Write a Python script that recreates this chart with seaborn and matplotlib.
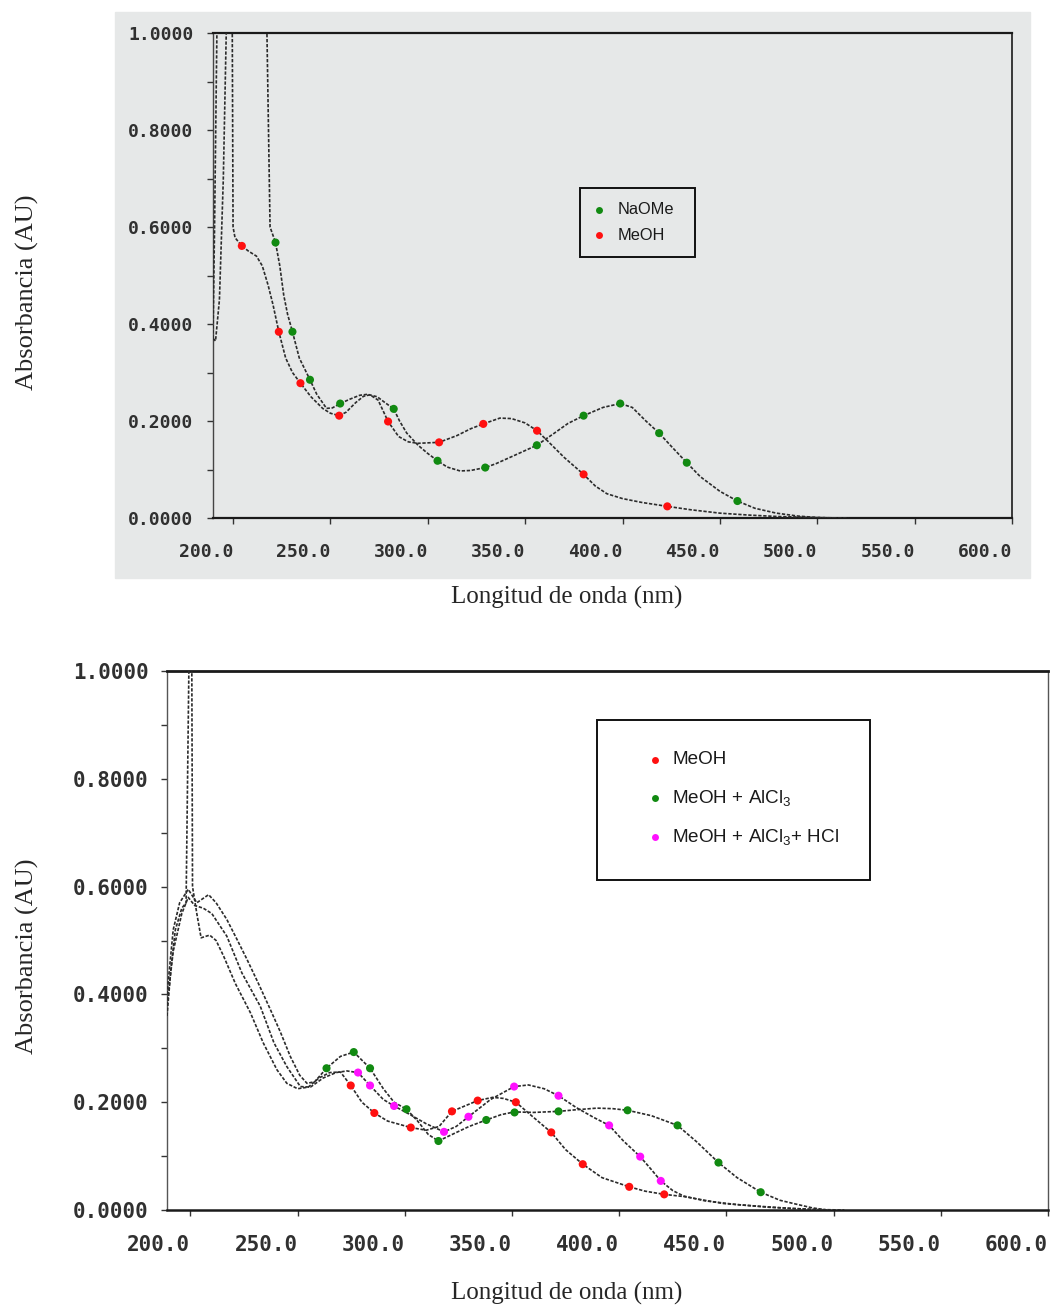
import matplotlib
matplotlib.use("Agg")
import matplotlib.pyplot as plt
import seaborn as sns
from matplotlib.patches import Rectangle
from matplotlib.lines import Line2D

sns.set_theme(style="white")
plt.rcParams['font.family'] = ['Liberation Sans', 'DejaVu Sans']
plt.rcParams['mathtext.default'] = 'regular'

W, H = 1055, 1309

# ---- top spectrum (NaOMe shift) : wavelength nm / absorbance
top_meoh_nm = [189.7, 191, 193, 195, 197, 199.5, 200, 201, 204.5, 208, 212, 215, 218, 220.5,
               223.5, 227, 230.5, 234.6, 240, 246, 250, 254.5, 258, 263, 267, 270.3, 274.5,
               279.6, 285, 290, 295, 305.8, 315, 322, 328.5, 337, 343, 350, 356.1, 362, 370,
               380, 386, 392, 400, 410, 423, 435, 450, 465, 480, 495, 505, 516]
top_meoh_abs = [0.37, 0.365, 0.45, 0.7, 1.1, 1.1, 0.6, 0.578, 0.561, 0.55, 0.54, 0.52, 0.48, 0.44,
                0.384, 0.33, 0.3, 0.278, 0.25, 0.226, 0.216, 0.211, 0.218, 0.238, 0.251, 0.254, 0.243,
                0.199, 0.168, 0.157, 0.154, 0.156, 0.17, 0.184, 0.194, 0.206, 0.205, 0.196, 0.18, 0.157, 0.125,
                0.09, 0.066, 0.05, 0.04, 0.032, 0.024, 0.017, 0.01, 0.006, 0.003, 0.0015, 0.0005, 0.0]
top_naome_nm = [189.7, 190.5, 192, 217, 219, 221.8, 224, 226, 228, 230.5, 234, 239.5, 243, 248,
                251, 255, 260, 265, 269, 274, 278, 282.5, 285.5, 289.2, 295, 300, 305, 310, 316.6,
                322, 329.5, 335, 345, 356, 365, 372, 380, 390, 398.8, 405, 412, 418.8, 425, 433,
                440, 450, 459, 468, 479, 490, 500, 510]
top_naome_abs = [0.37, 0.6, 1.1, 1.1, 0.6, 0.568, 0.52, 0.46, 0.42, 0.384, 0.33, 0.285, 0.255, 0.226,
                 0.227, 0.236, 0.245, 0.253, 0.255, 0.25, 0.238, 0.225, 0.2, 0.175, 0.15, 0.133, 0.118, 0.105, 0.097,
                 0.098, 0.104, 0.112, 0.13, 0.15, 0.175, 0.195, 0.211, 0.228, 0.236, 0.228, 0.2, 0.175, 0.148, 0.114,
                 0.085, 0.055, 0.035, 0.02, 0.01, 0.004, 0.001, 0.0]

top_meoh_pts_nm = [204.5, 223.5, 234.6, 254.5, 279.6, 305.8, 328.5, 356.1, 380, 423]
top_meoh_pts_abs = [0.561, 0.384, 0.278, 0.211, 0.199, 0.156, 0.194, 0.18, 0.09, 0.024]
top_naome_pts_nm = [221.8, 230.5, 239.5, 255, 282.5, 305, 329.5, 356, 380, 398.8, 418.8, 433, 459]
top_naome_pts_abs = [0.568, 0.384, 0.285, 0.236, 0.225, 0.118, 0.104, 0.15, 0.211, 0.236, 0.175, 0.114, 0.035]

# ---- bottom spectrum (AlCl3 / HCl shift)
bot_meoh_nm = [189.1, 191, 193, 196, 198, 199.6, 200.6, 201, 203, 205, 209, 212, 215.5, 221, 228,
               234, 240.4, 245, 250, 255, 260, 265, 270, 274.8, 280, 285.8, 292, 302.8, 310, 316,
               322, 334, 341, 346, 351.8, 360, 368.3, 375, 383, 392, 404.7, 412, 421, 430, 448.6,
               465, 480, 497]
bot_meoh_abs = [0.36, 0.45, 0.52, 0.56, 0.57, 1.1, 1.1, 0.6, 0.55, 0.505, 0.51, 0.5, 0.471, 0.42, 0.366,
                0.31, 0.26, 0.235, 0.225, 0.228, 0.245, 0.255, 0.256, 0.231, 0.2, 0.18, 0.165, 0.153, 0.148, 0.155,
                0.183, 0.203, 0.209, 0.207, 0.2, 0.172, 0.144, 0.112, 0.085, 0.06, 0.043, 0.035, 0.029, 0.025, 0.012,
                0.007, 0.003, 0.0]
bot_alcl3_nm = [189.1, 192, 195, 199, 203, 208.5, 212, 217, 222, 226.4, 232, 237.3, 242, 246.6, 251,
                254.4, 258, 263.5, 270, 276.2, 283.8, 290, 295, 300.8, 306, 311, 315.7, 322, 330, 338,
                345, 351.2, 360, 371.7, 380, 389.6, 397, 403.9, 415, 427.2, 436, 446.3, 455, 466, 475,
                481.3, 490, 497]
bot_alcl3_abs = [0.40, 0.52, 0.57, 0.595, 0.57, 0.585, 0.57, 0.539, 0.5, 0.465, 0.418, 0.372, 0.33, 0.285, 0.25,
                 0.235, 0.238, 0.263, 0.285, 0.293, 0.263, 0.225, 0.2, 0.187, 0.165, 0.14, 0.128, 0.14, 0.155, 0.167,
                 0.177, 0.182, 0.181, 0.183, 0.186, 0.189, 0.188, 0.185, 0.175, 0.157, 0.127, 0.088, 0.06, 0.033, 0.018,
                 0.012, 0.004, 0.0]
bot_hcl_nm = [189.1, 192, 196, 199, 202, 206, 210, 217, 224, 232.6, 239, 245, 251.3, 256, 262, 268,
              273, 278.2, 283.8, 290, 295, 302, 310, 318.3, 324, 329.7, 340, 351, 357.7, 365, 371.7,
              380, 388, 395.3, 402, 409.8, 415, 419.4, 425, 430, 440, 455, 470, 490, 505]
bot_hcl_abs = [0.38, 0.48, 0.55, 0.58, 0.565, 0.56, 0.55, 0.508, 0.44, 0.378, 0.31, 0.266, 0.229, 0.228, 0.245, 0.255,
               0.258, 0.255, 0.231, 0.205, 0.193, 0.178, 0.16, 0.145, 0.155, 0.173, 0.205, 0.229, 0.232, 0.225, 0.212,
               0.19, 0.172, 0.157, 0.128, 0.099, 0.075, 0.054, 0.036, 0.026, 0.017, 0.01, 0.005, 0.001, 0.0]

bot_meoh_pts_nm = [274.8, 285.8, 302.8, 322, 334, 351.8, 368.3, 383, 404.7, 421]
bot_meoh_pts_abs = [0.231, 0.18, 0.153, 0.183, 0.203, 0.2, 0.144, 0.085, 0.043, 0.029]
bot_alcl3_pts_nm = [263.5, 276.2, 283.8, 300.8, 315.7, 338, 351.2, 371.7, 403.9, 427.2, 446.3, 466]
bot_alcl3_pts_abs = [0.263, 0.293, 0.263, 0.187, 0.128, 0.167, 0.181, 0.183, 0.185, 0.157, 0.088, 0.033]
bot_hcl_pts_nm = [278.2, 283.8, 295, 318.3, 329.7, 351, 371.7, 395.3, 409.8, 419.4]
bot_hcl_pts_abs = [0.255, 0.231, 0.193, 0.145, 0.173, 0.229, 0.212, 0.157, 0.099, 0.054]

x_ticks = [200, 250, 300, 350, 400, 450, 500, 550, 600]
y_ticks = [0.0, 0.2, 0.4, 0.6, 0.8, 1.0]

RED, GREEN, MAGENTA = '#ff1010', '#118a11', '#ff10ff'
LINE = '#2b2b2b'
SCAN_GRAY = '#e6e8e8'


def fx(x):
    return x / W


def fy(y):
    return 1 - y / H


def px_axes(l, t, r, b):
    return [l / W, 1 - b / H, (r - l) / W, (b - t) / H]


def style_axes(ax, xlim, fs, ypad, xpad):
    ax.set_xlim(*xlim)
    ax.set_ylim(0, 1.0)
    ax.set_xticks(x_ticks)
    ax.set_xticklabels([f"{v:.1f}" for v in x_ticks], ha='right')
    ax.set_yticks(y_ticks)
    ax.set_yticklabels([f"{v:.4f}" for v in y_ticks])
    ax.set_yticks([0.1, 0.3, 0.5, 0.7, 0.9], minor=True)
    ax.tick_params(axis='both', which='both', direction='out', length=4, width=1,
                   color='#333333', labelcolor='#303030', left=True, bottom=True)
    ax.tick_params(axis='y', pad=ypad)
    ax.tick_params(axis='x', pad=xpad)
    for lab in ax.get_xticklabels() + ax.get_yticklabels():
        lab.set_fontfamily('DejaVu Sans Mono')
        lab.set_fontweight('bold')
        lab.set_fontsize(fs)
    ax.set_xlabel('')
    ax.set_ylabel('')
    ax.grid(False)


def draw_series(ax, nm, ab, pts_nm, pts_ab, color):
    sns.lineplot(x=nm, y=ab, ax=ax, color=LINE, lw=1.2, linestyle=(0, (2, 1)),
                 sort=False, estimator=None, zorder=3)
    sns.scatterplot(x=pts_nm, y=pts_ab, ax=ax, color=color, s=34, edgecolor='none',
                    zorder=5, clip_on=False)


def draw_key(fig, box, rows, mx, tx, fs):
    l, t, r, b = box
    fig.add_artist(Rectangle((fx(l), fy(b)), fx(r - l), (b - t) / H, transform=fig.transFigure,
                             fill=False, edgecolor='#111111', lw=1.4, zorder=10))
    for y, color, label in rows:
        fig.add_artist(Line2D([fx(mx)], [fy(y)], marker='o', markersize=5, color=color,
                              markeredgecolor='none', transform=fig.transFigure, zorder=11))
        fig.text(fx(tx), fy(y), label, fontsize=fs, va='center', ha='left', color='#1a1a1a',
                 family=['Liberation Sans', 'DejaVu Sans'], zorder=11)


fig = plt.figure(figsize=(W / 100, H / 100), dpi=100)
fig.patch.set_facecolor('white')

# scanned gray background behind the first chart
fig.add_artist(Rectangle((fx(115), fy(578)), fx(1030 - 115), (578 - 12) / H,
                         transform=fig.transFigure, color=SCAN_GRAY, zorder=-10))

# ---------- top chart ----------
ax1 = fig.add_axes(px_axes(213, 33, 1012, 518))
ax1.set_facecolor('none')
draw_series(ax1, top_meoh_nm, top_meoh_abs, top_meoh_pts_nm, top_meoh_pts_abs, RED)
draw_series(ax1, top_naome_nm, top_naome_abs, top_naome_pts_nm, top_naome_pts_abs, GREEN)
style_axes(ax1, (189.7, 600), 13, 10, 14)
ax1.spines['left'].set_linestyle((0, (1, 1)))
ax1.spines['left'].set_color('#444444')
ax1.spines['left'].set_linewidth(1.0)
for side, lw in [('top', 1.6), ('bottom', 1.6), ('right', 1.2)]:
    ax1.spines[side].set_color('#1a1a1a')
    ax1.spines[side].set_linewidth(lw)

draw_key(fig, (580, 188, 695, 257),
         [(210, GREEN, 'NaOMe'), (235, RED, 'MeOH')], 599, 618, 11.8)

fig.text(fx(567), fy(597), 'Longitud de onda (nm)', fontsize=18, ha='center', va='center',
         family=['Liberation Serif', 'DejaVu Serif'])
fig.text(fx(27), fy(292), 'Absorbancia (AU)', fontsize=19, ha='center', va='center',
         rotation=90, family=['Liberation Serif', 'DejaVu Serif'])

# ---------- bottom chart ----------
ax2 = fig.add_axes(px_axes(167, 671, 1048, 1210))
ax2.set_facecolor('white')
draw_series(ax2, bot_meoh_nm, bot_meoh_abs, bot_meoh_pts_nm, bot_meoh_pts_abs, RED)
draw_series(ax2, bot_alcl3_nm, bot_alcl3_abs, bot_alcl3_pts_nm, bot_alcl3_pts_abs, GREEN)
draw_series(ax2, bot_hcl_nm, bot_hcl_abs, bot_hcl_pts_nm, bot_hcl_pts_abs, MAGENTA)
style_axes(ax2, (189.1, 600), 15, 9, 14)
for side in ['left', 'right']:
    ax2.spines[side].set_linestyle((0, (1, 1)))
    ax2.spines[side].set_color('#555555')
    ax2.spines[side].set_linewidth(1.0)
for side, lw in [('top', 2.0), ('bottom', 1.8)]:
    ax2.spines[side].set_color('#1a1a1a')
    ax2.spines[side].set_linewidth(lw)

draw_key(fig, (597, 720, 870, 880),
         [(760, RED, 'MeOH'), (798, GREEN, 'MeOH + AlCl$_3$'), (837, MAGENTA, 'MeOH + AlCl$_3$+ HCl')],
         655, 672, 13.6)

fig.text(fx(567), fy(1293), 'Longitud de onda (nm)', fontsize=18, ha='center', va='center',
         family=['Liberation Serif', 'DejaVu Serif'])
fig.text(fx(27), fy(956), 'Absorbancia (AU)', fontsize=19, ha='center', va='center',
         rotation=90, family=['Liberation Serif', 'DejaVu Serif'])

fig.savefig('out.png', dpi=100)
